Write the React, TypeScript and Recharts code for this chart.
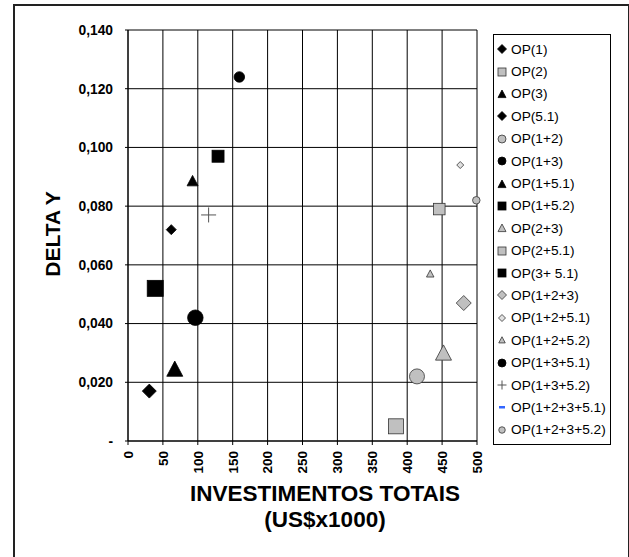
import { ScatterChart, Scatter, XAxis, YAxis, CartesianGrid, Label } from "recharts";

// series, in legend order
const seriesNames = [
  "OP(1)",
  "OP(2)",
  "OP(3)",
  "OP(5.1)",
  "OP(1+2)",
  "OP(1+3)",
  "OP(1+5.1)",
  "OP(1+5.2)",
  "OP(2+3)",
  "OP(2+5.1)",
  "OP(3+ 5.1)",
  "OP(1+2+3)",
  "OP(1+2+5.1)",
  "OP(1+2+5.2)",
  "OP(1+3+5.1)",
  "OP(1+3+5.2)",
  "OP(1+2+3+5.1)",
  "OP(1+2+3+5.2)",
];

// investimentos totais (US$x1000)
const investimentos: (number | null)[] = [
  30.5, 384, 67, 62, 414, 159.5, 92.5, 129, 452, 446, 39, 481, 476, 433, 96.5, 115.5, null, 499,
];

// delta Y
const deltaY: (number | null)[] = [
  0.017, 0.005, 0.0245, 0.072, 0.022, 0.124, 0.0886, 0.097, 0.03, 0.079, 0.052, 0.047, 0.094,
  0.057, 0.042, 0.077, null, 0.082,
];

const xTicks = [0, 50, 100, 150, 200, 250, 300, 350, 400, 450, 500];
const yTicks = [0, 0.02, 0.04, 0.06, 0.08, 0.1, 0.12, 0.14];

type Kind = "diamond" | "square" | "triangle" | "circle" | "plus" | "dash";
interface MarkerStyle {
  kind: Kind;
  size: number;
  fill: string;
}

const GRAY = "#c0c0c0";
const markerStyles: MarkerStyle[] = [
  { kind: "diamond", size: 14, fill: "#000" },
  { kind: "square", size: 15, fill: GRAY },
  { kind: "triangle", size: 16, fill: "#000" },
  { kind: "diamond", size: 10, fill: "#000" },
  { kind: "circle", size: 15, fill: GRAY },
  { kind: "circle", size: 10.5, fill: "#000" },
  { kind: "triangle", size: 11, fill: "#000" },
  { kind: "square", size: 12, fill: "#000" },
  { kind: "triangle", size: 16, fill: GRAY },
  { kind: "square", size: 11.5, fill: GRAY },
  { kind: "square", size: 16, fill: "#000" },
  { kind: "diamond", size: 15, fill: GRAY },
  { kind: "diamond", size: 7, fill: "#e0e0e0" },
  { kind: "triangle", size: 7.5, fill: GRAY },
  { kind: "circle", size: 15.5, fill: "#000" },
  { kind: "plus", size: 15, fill: "#555" },
  { kind: "dash", size: 7, fill: "#3366ff" },
  { kind: "circle", size: 7.5, fill: GRAY },
];

const legendIcons: MarkerStyle[] = markerStyles.map((m) => ({
  ...m,
  size: m.kind === "plus" ? 9 : m.kind === "dash" ? 6 : m.kind === "diamond" ? (m.size > 8 ? 9 : 7) : m.size > 8 ? 8 : 6.5,
}));

const FONT = '"Liberation Sans", Arial, sans-serif';

const Marker = ({ cx, cy, style }: { cx: number; cy: number; style: MarkerStyle }) => {
  const s = style.size;
  const h = s / 2;
  const stroke = style.fill === "#000" ? "#000" : "#333";
  switch (style.kind) {
    case "diamond":
      return (
        <polygon
          points={`${cx},${cy - h} ${cx + h},${cy} ${cx},${cy + h} ${cx - h},${cy}`}
          fill={style.fill}
          stroke={stroke}
          strokeWidth={0.8}
        />
      );
    case "square":
      return <rect x={cx - h} y={cy - h} width={s} height={s} fill={style.fill} stroke={stroke} strokeWidth={0.8} />;
    case "triangle":
      return (
        <polygon
          points={`${cx},${cy - h} ${cx + h},${cy + h * 0.9} ${cx - h},${cy + h * 0.9}`}
          fill={style.fill}
          stroke={stroke}
          strokeWidth={0.8}
        />
      );
    case "circle":
      return <circle cx={cx} cy={cy} r={h} fill={style.fill} stroke={stroke} strokeWidth={0.8} />;
    case "plus":
      return (
        <g stroke={style.fill} strokeWidth={1}>
          <line x1={cx - h} y1={cy} x2={cx + h} y2={cy} />
          <line x1={cx} y1={cy - h} x2={cx} y2={cy + h} />
        </g>
      );
    default:
      return <rect x={cx - h} y={cy - 1} width={s} height={2.5} fill={style.fill} />;
  }
};

const XTick = (props: any) => {
  const { x, y, payload } = props;
  return (
    <text
      x={x}
      y={y}
      dy="0.36em"
      transform={`rotate(-90, ${x}, ${y})`}
      textAnchor="end"
      fontFamily={FONT}
      fontWeight="bold"
      fontSize={13.5}
      fill="#000"
    >
      {payload.value}
    </text>
  );
};

const formatY = (v: number) => (v === 0 ? "-" : v.toFixed(3).replace(".", ","));

export default function App() {
  const series = seriesNames
    .map((name, i) => ({ name, i, x: investimentos[i], y: deltaY[i] }))
    .filter((s) => s.x !== null && s.y !== null);

  return (
    <div style={{ position: "fixed", left: 0, top: 0, width: 629, height: 557, background: "#fff", overflow: "hidden" }}>
      <div
        style={{
          position: "absolute",
          left: 13,
          top: 4,
          width: 613,
          height: 560,
          border: "2px solid #222",
        }}
      />
      <div style={{ position: "absolute", left: 0, top: 0 }}>
        <ScatterChart width={629} height={557} margin={{ top: 30, right: 152, bottom: 76, left: 28 }}>
          <CartesianGrid stroke="#000" strokeWidth={1} horizontalValues={yTicks} verticalValues={xTicks} />
          <XAxis
            type="number"
            dataKey="x"
            domain={[0, 500]}
            ticks={xTicks}
            interval={0}
            height={40}
            tickSize={4}
            tickMargin={6}
            stroke="#000"
            tick={<XTick />}
          >
            <Label
              content={() => (
                <g fontFamily={FONT} fontWeight="bold" fontSize={22.5} fill="#000" textAnchor="middle">
                  <text x={325} y={501}>
                    INVESTIMENTOS TOTAIS
                  </text>
                  <text x={325} y={527}>
                    (US$x1000)
                  </text>
                </g>
              )}
            />
          </XAxis>
          <YAxis
            type="number"
            dataKey="y"
            domain={[0, 0.14]}
            ticks={yTicks}
            interval={0}
            width={100}
            tickSize={3}
            tickMargin={12}
            stroke="#000"
            tickFormatter={formatY}
            tick={{ fontFamily: FONT, fontWeight: "bold", fontSize: 13.8, fill: "#000" }}
          >
            <Label
              content={() => (
                <text
                  x={52.5}
                  y={234}
                  transform="rotate(-90, 52.5, 234)"
                  textAnchor="middle"
                  dominantBaseline="central"
                  fontFamily={FONT}
                  fontWeight="bold"
                  fontSize={21}
                  fill="#000"
                >
                  DELTA Y
                </text>
              )}
            />
          </YAxis>
          {series.map((s) => (
            <Scatter
              key={s.name}
              name={s.name}
              data={[{ x: s.x, y: s.y }]}
              isAnimationActive={false}
              shape={(p: any) => <Marker cx={p.cx} cy={p.cy} style={markerStyles[s.i]} />}
            />
          ))}
        </ScatterChart>
      </div>
      <div
        style={{
          position: "absolute",
          left: 493,
          top: 34,
          width: 116,
          height: 406,
          border: "1px solid #000",
          paddingTop: 3,
          boxSizing: "content-box",
          fontFamily: FONT,
          fontSize: 13.7,
          color: "#000",
        }}
      >
        {seriesNames.map((name, i) => (
          <div key={name} style={{ height: 22.4, display: "flex", alignItems: "center", whiteSpace: "nowrap" }}>
            <svg width={14} height={14} style={{ marginLeft: 1, marginRight: 2, flex: "none" }}>
              <Marker cx={7} cy={7} style={legendIcons[i]} />
            </svg>
            <span>{name}</span>
          </div>
        ))}
      </div>
    </div>
  );
}
